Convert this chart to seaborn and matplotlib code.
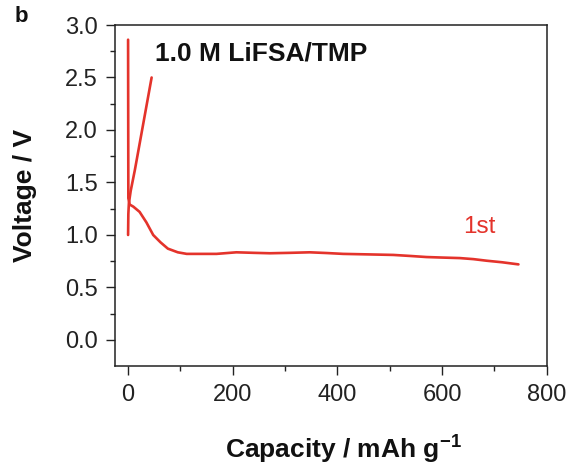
import numpy as np
import pandas as pd
import matplotlib
matplotlib.use("Agg")
import matplotlib.pyplot as plt
from matplotlib.ticker import MultipleLocator, FormatStrFormatter
import seaborn as sns

# First-cycle discharge / charge profile (capacity in mAh/g, voltage in V)
discharge_capacity = [0, 0.5, 3, 10, 22, 35, 48, 62, 76, 95, 112, 140, 169, 207, 240, 271, 310,
                      347, 380, 411, 460, 507, 540, 570, 600, 634, 660, 685, 715, 746]
discharge_voltage = [2.86, 1.35, 1.29, 1.27, 1.22, 1.12, 1.00, 0.93, 0.87, 0.835, 0.82, 0.82, 0.82,
                     0.835, 0.83, 0.826, 0.83, 0.835, 0.828, 0.82, 0.815, 0.81, 0.80, 0.79, 0.785,
                     0.78, 0.77, 0.755, 0.74, 0.72]
charge_capacity = [0, 0.5, 1.5, 5, 13, 25, 45]
charge_voltage = [1.00, 1.20, 1.30, 1.42, 1.62, 1.95, 2.50]

electrolyte_label = "1.0 M LiFSA/TMP"
cycle_label = "1st"
panel_label = "b"

sns.set_theme(style="ticks")
plt.rcParams["font.family"] = ["Liberation Sans", "DejaVu Sans"]
plt.rcParams["mathtext.fontset"] = "custom"
plt.rcParams["mathtext.rm"] = "Liberation Sans"
plt.rcParams["mathtext.bf"] = "Liberation Sans:bold"

red = "#e4332b"

df = pd.concat([
    pd.DataFrame({"capacity": discharge_capacity, "voltage": discharge_voltage, "branch": "discharge"}),
    pd.DataFrame({"capacity": charge_capacity, "voltage": charge_voltage, "branch": "charge"}),
], ignore_index=True)

fig = plt.figure(figsize=(5.69, 4.63), dpi=100)
ax = fig.add_axes([115 / 569, 1 - 365.7 / 463, (546.7 - 115) / 569, (365.7 - 25) / 463])

sns.lineplot(data=df, x="capacity", y="voltage", units="branch", estimator=None, sort=False,
             color=red, linewidth=1.9, ax=ax, legend=False)

ax.set_xlim(-25, 800)
ax.set_ylim(-0.245, 3.0)
ax.xaxis.set_major_locator(MultipleLocator(200))
ax.xaxis.set_minor_locator(MultipleLocator(100))
ax.yaxis.set_major_locator(MultipleLocator(0.5))
ax.yaxis.set_minor_locator(MultipleLocator(0.25))
ax.yaxis.set_major_formatter(FormatStrFormatter("%.1f"))

for side in ["left", "bottom", "top", "right"]:
    ax.spines[side].set_visible(True)
    ax.spines[side].set_linewidth(1.1)
    ax.spines[side].set_color("#222222")

ax.tick_params(which="major", direction="out", length=6.5, width=1.0, labelsize=17,
               color="#222222", labelcolor="#222222", pad=6)
ax.tick_params(which="minor", direction="out", length=3.6, width=1.0, color="#222222")
ax.tick_params(axis="x", which="major", pad=7)

ax.set_xlabel(r"Capacity / mAh g$^{\mathbf{-1}}$", fontsize=19, fontweight="bold", color="#111111")
ax.set_ylabel("Voltage / V", fontsize=19, fontweight="bold", color="#111111")
ax.xaxis.set_label_coords(0.53, -0.195)
ax.yaxis.set_label_coords(-0.18, 0.5)

ax.text(0.0927, 0.915, electrolyte_label, transform=ax.transAxes, fontsize=19,
        fontweight="bold", color="#111111", ha="left", va="center")
ax.text(672, 1.08, cycle_label, fontsize=17.5, color=red, ha="center", va="center")
fig.text(15 / 569, 1 - 17 / 463, panel_label, fontsize=16, fontweight="bold",
         color="#111111", ha="left", va="center")

fig.savefig("out.png", dpi=100, facecolor="white")
